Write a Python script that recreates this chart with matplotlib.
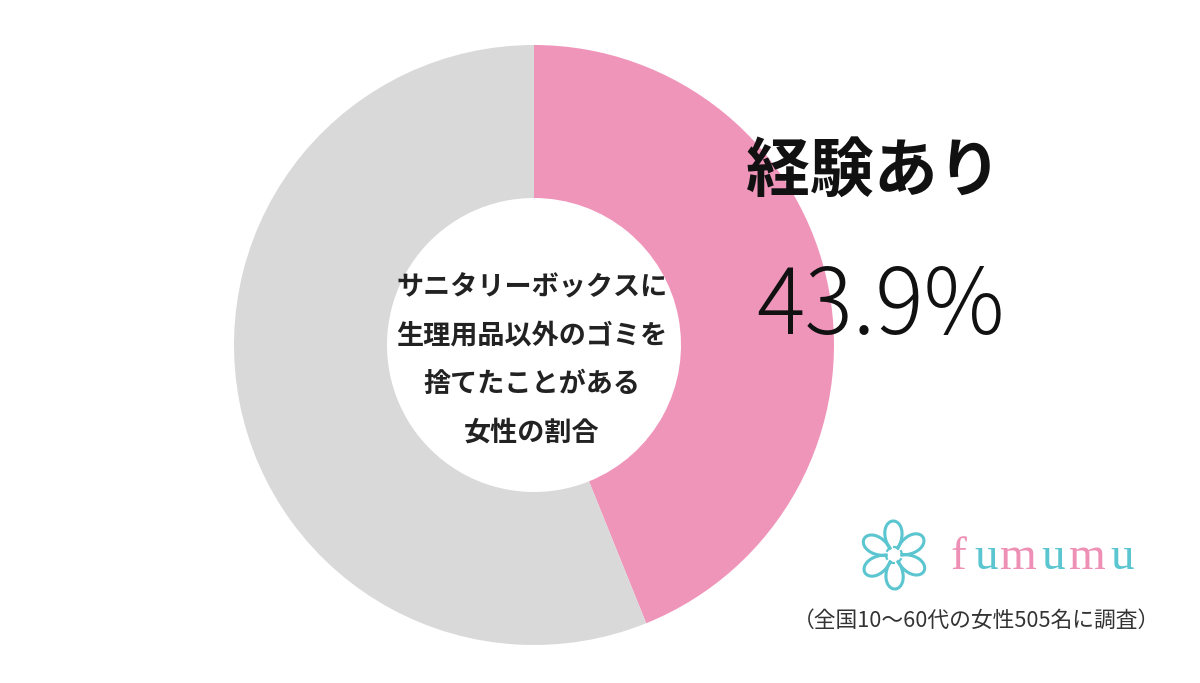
import numpy as np
import matplotlib
matplotlib.use('Agg')
import matplotlib.pyplot as plt

plt.rcParams['font.family'] = ['Noto Sans CJK JP', 'DejaVu Sans']

# data
labels = ['経験あり', 'なし']
shares = [43.9, 56.1]
colors = ['#F095BA', '#D9D9D9']
center_lines = ['サニタリーボックスに', '生理用品以外のゴミを', '捨てたことがある', '女性の割合']
note = '（全国10～60代の女性505名に調査）'

W, H = 1200, 683
fig = plt.figure(figsize=(W / 100, H / 100), dpi=100)
ax = fig.add_axes([0, 0, 1, 1])

cx, cy = 534, H - 345
ax.pie(shares, colors=colors, startangle=90, counterclock=False,
       center=(cx, cy), radius=300,
       wedgeprops=dict(width=153, edgecolor='none'))
ax.set_xlim(0, W)
ax.set_ylim(0, H)
ax.set_aspect('equal')
ax.axis('off')

# text in the hole
for i, line in enumerate(center_lines):
    ax.text(cx - 2, H - 287 - i * 48.5, line, ha='center', va='center',
            fontsize=19.5, fontweight='bold', color='#222222')

# label on the right
ax.text(874, H - 172, labels[0], ha='center', va='center',
        fontsize=46, fontweight='bold', color='#111111')
ax.text(881, H - 308, f'{shares[0]}%', ha='center', va='center',
        fontsize=65, fontweight='light', color='#111111')

# logo
pink, teal = '#EE8FB5', '#5BC5D0'
word = 'fumumu'
xs = [958, 986, 1018, 1053, 1087, 1122]
for ch, x, c in zip(word, xs, [pink, teal, pink, teal, pink, teal]):
    ax.text(x, H - 558, ch, ha='center', va='center', fontsize=34,
            family='Liberation Serif', color=c)

# flower mark
fx, fy = 894, H - 555
for k in range(6):
    a0 = k * np.pi / 3
    s = np.linspace(0, 1, 80)
    rr = 8 + 26 * np.sin(np.pi * s) ** 0.7
    ang = a0 + 1.1 * s
    ax.plot(fx + rr * np.cos(ang), fy + rr * np.sin(ang), color=teal, lw=2.2)
    ax.plot(fx + 8 * np.cos(a0 + 0.5 * s), fy + 8 * np.sin(a0 + 0.5 * s),
            color=teal, lw=1.6)

ax.text(1160, H - 621, note, ha='right', va='center', fontsize=15.7,
        color='#333333')

fig.savefig('out.png', dpi=100, facecolor='white')
